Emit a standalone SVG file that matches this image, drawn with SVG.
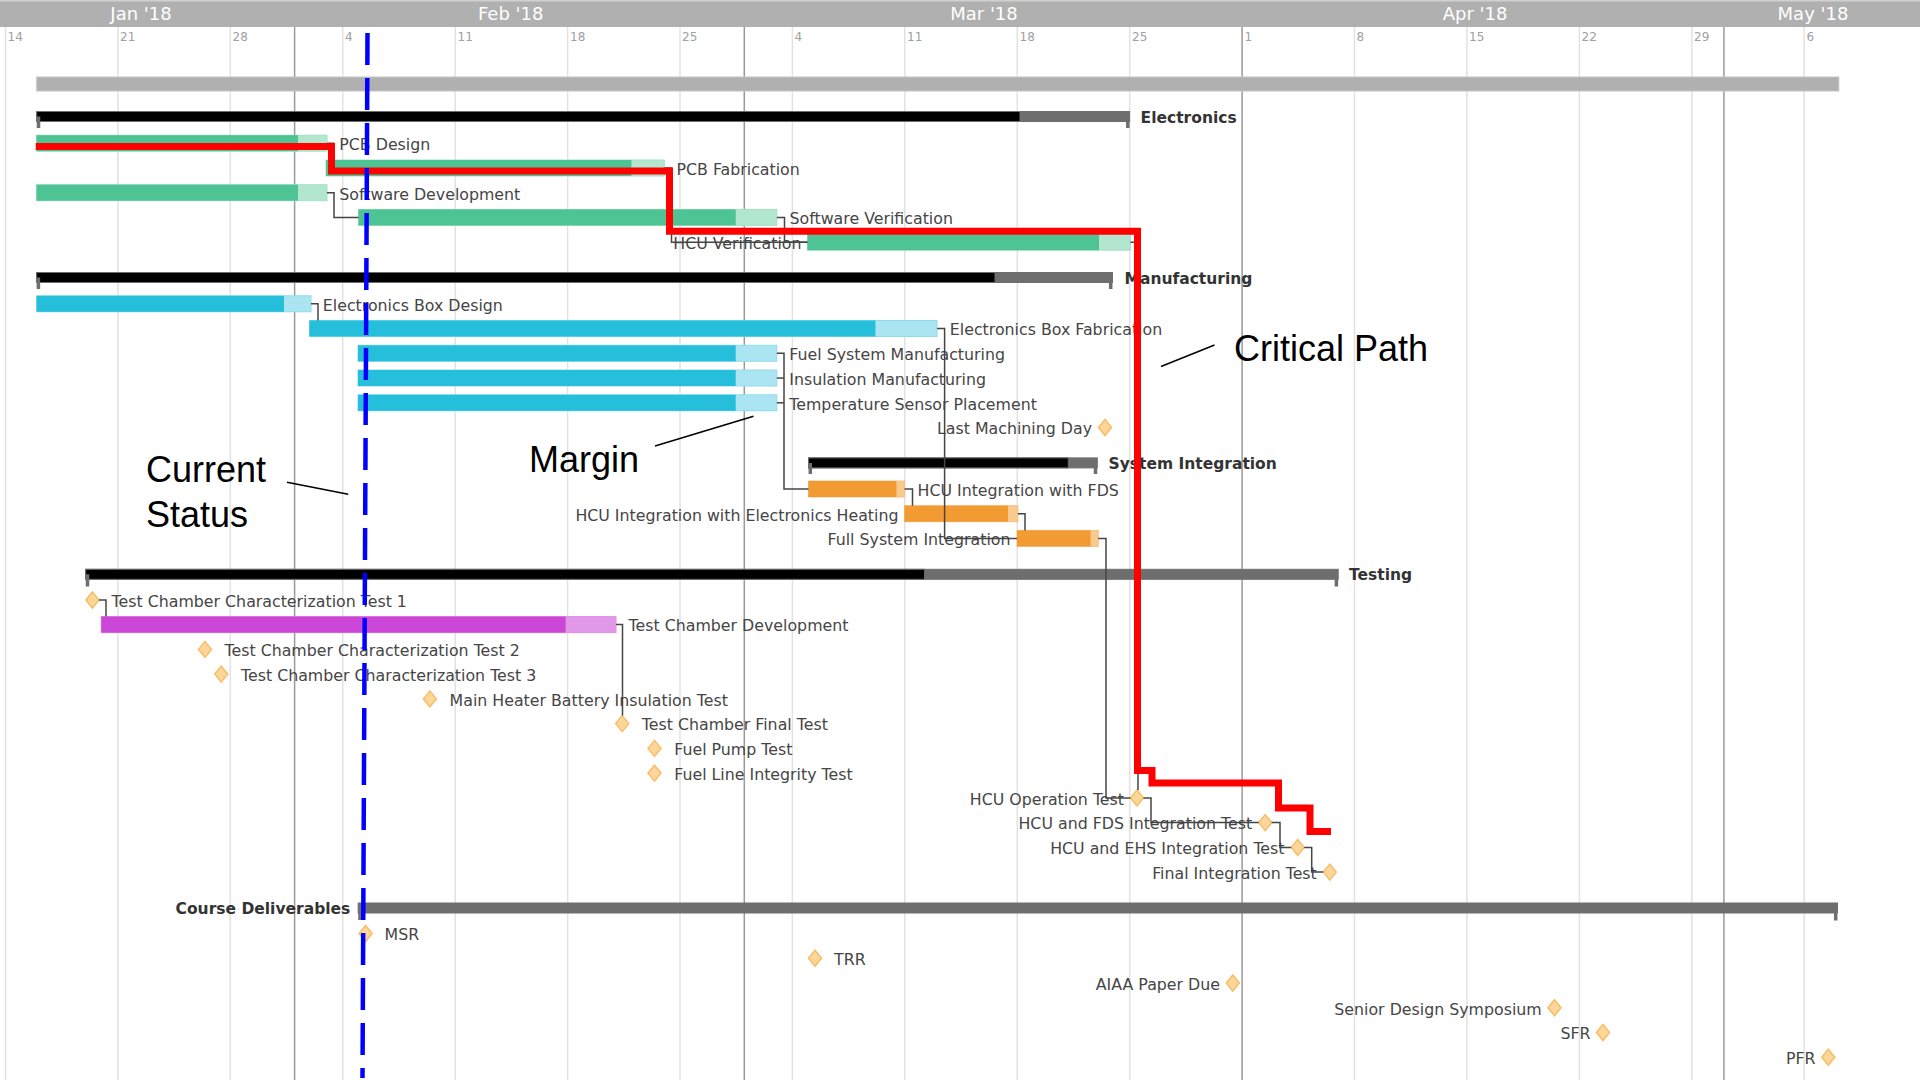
<svg xmlns="http://www.w3.org/2000/svg" width="1920" height="1080" viewBox="0 0 1920 1080">
<style>
.wk{stroke:#e2e2e2;stroke-width:1.5}
.mo{stroke:#9a9a9a;stroke-width:1.5}
.day{font-family:"DejaVu Sans",sans-serif;font-size:12px;fill:#a0a0a0}
.month{font-family:"DejaVu Sans",sans-serif;font-size:18px;fill:#ffffff;text-anchor:middle}
.lbl{font-family:"DejaVu Sans",sans-serif;font-size:15.8px;fill:#454545}
.end{text-anchor:end}
.grp{font-family:"DejaVu Sans",sans-serif;font-size:15.5px;font-weight:bold;fill:#333333}
.sumb{fill:#000000;stroke:#6e6e6e;stroke-width:1}
.sumg{fill:#6e6e6e;stroke:#6e6e6e;stroke-width:1}
.tick{stroke:#6e6e6e;stroke-width:3.5;fill:none}
.gd{fill:#4ec494}.gl{fill:#b3e6cf;stroke:#a6e0c6;stroke-width:1}
.cd{fill:#26bfdb}.cl{fill:#abe5f1;stroke:#8fdcec;stroke-width:1}
.od{fill:#f29b33}.ol{fill:#f9c98e;stroke:#f7c184;stroke-width:1}
.pd{fill:#cb47d8}.pl{fill:#e198e8;stroke:#dd90e5;stroke-width:1}
.ms{fill:#ffd699;stroke:#f6bd67;stroke-width:1.5}
.conn{fill:none;stroke:#454545;stroke-width:1.5}
.crit{fill:none;stroke:#ff0000;stroke-width:7}
.now{fill:none;stroke:#0000ff;stroke-width:4.5;stroke-dasharray:32 13}
.ann{font-family:"Liberation Sans",Arial,sans-serif;font-size:36px;fill:#000000}
.lead{stroke:#000000;stroke-width:1.5}
</style>

<g id="grid">
<line class="wk" x1="5.5" y1="27" x2="5.5" y2="1080"/>
<line class="wk" x1="117.9" y1="27" x2="117.9" y2="1080"/>
<line class="wk" x1="230.3" y1="27" x2="230.3" y2="1080"/>
<line class="wk" x1="342.7" y1="27" x2="342.7" y2="1080"/>
<line class="wk" x1="455.2" y1="27" x2="455.2" y2="1080"/>
<line class="wk" x1="567.6" y1="27" x2="567.6" y2="1080"/>
<line class="wk" x1="680" y1="27" x2="680" y2="1080"/>
<line class="wk" x1="792.4" y1="27" x2="792.4" y2="1080"/>
<line class="wk" x1="904.8" y1="27" x2="904.8" y2="1080"/>
<line class="wk" x1="1017.3" y1="27" x2="1017.3" y2="1080"/>
<line class="wk" x1="1129.7" y1="27" x2="1129.7" y2="1080"/>
<line class="wk" x1="1354.5" y1="27" x2="1354.5" y2="1080"/>
<line class="wk" x1="1466.9" y1="27" x2="1466.9" y2="1080"/>
<line class="wk" x1="1579.4" y1="27" x2="1579.4" y2="1080"/>
<line class="wk" x1="1691.8" y1="27" x2="1691.8" y2="1080"/>
<line class="wk" x1="1804.2" y1="27" x2="1804.2" y2="1080"/>
<line class="mo" x1="294.6" y1="27" x2="294.6" y2="1080"/>
<line class="mo" x1="744.3" y1="27" x2="744.3" y2="1080"/>
<line class="mo" x1="1242.1" y1="27" x2="1242.1" y2="1080"/>
<line class="mo" x1="1723.9" y1="27" x2="1723.9" y2="1080"/>
</g>

<g id="header">
<rect x="0" y="0" width="1920" height="27" fill="#b0b0b0"/>
<rect x="0" y="0" width="1920" height="1.5" fill="#d0d0d0"/>
<text class="month" x="141" y="19.5">Jan '18</text>
<text class="month" x="510.7" y="19.5">Feb '18</text>
<text class="month" x="984" y="19.5">Mar '18</text>
<text class="month" x="1475" y="19.5">Apr '18</text>
<text class="month" x="1813" y="19.5">May '18</text>
<text class="day" x="7.5" y="40.5">14</text>
<text class="day" x="120" y="40.5">21</text>
<text class="day" x="232.5" y="40.5">28</text>
<text class="day" x="345" y="40.5">4</text>
<text class="day" x="457.5" y="40.5">11</text>
<text class="day" x="570" y="40.5">18</text>
<text class="day" x="682" y="40.5">25</text>
<text class="day" x="794.5" y="40.5">4</text>
<text class="day" x="907" y="40.5">11</text>
<text class="day" x="1019.5" y="40.5">18</text>
<text class="day" x="1132" y="40.5">25</text>
<text class="day" x="1244.5" y="40.5">1</text>
<text class="day" x="1356.5" y="40.5">8</text>
<text class="day" x="1469" y="40.5">15</text>
<text class="day" x="1581.5" y="40.5">22</text>
<text class="day" x="1694" y="40.5">29</text>
<text class="day" x="1806.5" y="40.5">6</text>
</g>

<g id="project">
<rect x="36.7" y="77" width="1802.1" height="14" fill="#b0b0b0" stroke="#c4c4c4" stroke-width="1"/>
</g>

<g id="electronics">
<rect class="sumg" x="36.7" y="111.5" width="1092.9" height="10"/>
<rect class="sumb" x="36.7" y="111.5" width="983.3" height="10"/>
<path class="tick" d="M38.5 116.5 V128 M1127.8 116.5 V128"/>
<text class="grp" x="1140.6" y="122.5">Electronics</text>
</g>
<g id="pcb-design">
<rect class="gl" x="36.6" y="135.2" width="290.4" height="16"/>
<rect class="gd" x="36.6" y="135.2" width="261.4" height="16"/>
<text class="lbl" x="339.3" y="150">PCB Design</text>
</g>
<g id="pcb-fabrication">
<rect class="gl" x="326" y="160" width="338.3" height="16"/>
<rect class="gd" x="326" y="160" width="305.4" height="16"/>
<text class="lbl" x="676.5" y="174.8">PCB Fabrication</text>
</g>
<g id="software-development">
<rect class="gl" x="36.6" y="184.7" width="290.4" height="16"/>
<rect class="gd" x="36.6" y="184.7" width="261.4" height="16"/>
<text class="lbl" x="339.3" y="199.5">Software Development</text>
</g>
<g id="software-verification">
<rect class="gl" x="358.5" y="209.4" width="418.3" height="16"/>
<rect class="gd" x="358.5" y="209.4" width="377.2" height="16"/>
<text class="lbl" x="789.5" y="224.2">Software Verification</text>
</g>
<g id="hcu-verification">
<rect class="gl" x="807.5" y="234.2" width="322.9" height="16"/>
<rect class="gd" x="807.5" y="234.2" width="291.5" height="16"/>
<text class="lbl end" x="801.5" y="249">HCU Verification</text>
</g>

<g id="manufacturing">
<rect class="sumg" x="36.6" y="272.5" width="1075.9" height="10"/>
<rect class="sumb" x="36.6" y="272.5" width="958.4" height="10"/>
<path class="tick" d="M38.4 277.5 V289 M1110.7 277.5 V289"/>
<text class="grp" x="1124.5" y="283.5">Manufacturing</text>
</g>
<g id="electronics-box-design">
<rect class="cl" x="36.6" y="295.8" width="274.4" height="16"/>
<rect class="cd" x="36.6" y="295.8" width="247.4" height="16"/>
<text class="lbl" x="322.8" y="310.6">Electronics Box Design</text>
</g>
<g id="electronics-box-fabrication">
<rect class="cl" x="309.4" y="320.5" width="627.6" height="16"/>
<rect class="cd" x="309.4" y="320.5" width="566" height="16"/>
<text class="lbl" x="949.8" y="335.3">Electronics Box Fabrication</text>
</g>
<g id="fuel-system-manufacturing">
<rect class="cl" x="358" y="345.3" width="418.8" height="16"/>
<rect class="cd" x="358" y="345.3" width="377.7" height="16"/>
<text class="lbl" x="789.3" y="360.1">Fuel System Manufacturing</text>
</g>
<g id="insulation-manufacturing">
<rect class="cl" x="358" y="370" width="418.8" height="16"/>
<rect class="cd" x="358" y="370" width="377.7" height="16"/>
<text class="lbl" x="789.3" y="384.8">Insulation Manufacturing</text>
</g>
<g id="temperature-sensor-placement">
<rect class="cl" x="358" y="394.8" width="418.8" height="16"/>
<rect class="cd" x="358" y="394.8" width="377.7" height="16"/>
<text class="lbl" x="789.3" y="409.6">Temperature Sensor Placement</text>
</g>
<g id="last-machining-day">
<path class="ms" d="M1105 419.5 L1111.5 427.5 L1105 435.5 L1098.5 427.5 Z"/>
<text class="lbl end" x="1092" y="434.3">Last Machining Day</text>
</g>

<g id="system-integration">
<rect class="sumg" x="808.5" y="457.9" width="288.8" height="10"/>
<rect class="sumb" x="808.5" y="457.9" width="259.8" height="10"/>
<path class="tick" d="M810.3 462.9 V474 M1095.5 462.9 V474"/>
<text class="grp" x="1108.5" y="468.9">System Integration</text>
</g>
<g id="hcu-integration-fds">
<rect class="ol" x="808.5" y="481" width="96" height="16"/>
<rect class="od" x="808.5" y="481" width="87.9" height="16"/>
<text class="lbl" x="917.5" y="495.8">HCU Integration with FDS</text>
</g>
<g id="hcu-integration-eh">
<rect class="ol" x="904.5" y="505.7" width="113.4" height="16"/>
<rect class="od" x="904.5" y="505.7" width="103.5" height="16"/>
<text class="lbl end" x="898.5" y="520.5">HCU Integration with Electronics Heating</text>
</g>
<g id="full-system-integration">
<rect class="ol" x="1017" y="530.4" width="81.2" height="16"/>
<rect class="od" x="1017" y="530.4" width="73.6" height="16"/>
<text class="lbl end" x="1010.5" y="545.2">Full System Integration</text>
</g>

<g id="testing">
<rect class="sumg" x="85.7" y="569.3" width="1252.5" height="10"/>
<rect class="sumb" x="85.7" y="569.3" width="838.9" height="10"/>
<path class="tick" d="M87.5 574.3 V586.5 M1336.4 574.3 V586.5"/>
<text class="grp" x="1349" y="580.3">Testing</text>
</g>
<g id="tc-char-test-1">
<path class="ms" d="M92.4 592 L98.9 600 L92.4 608 L85.9 600 Z"/>
<text class="lbl" x="111.6" y="606.8">Test Chamber Characterization Test 1</text>
</g>
<g id="tc-development">
<rect class="pl" x="101.3" y="616.6" width="514.7" height="16"/>
<rect class="pd" x="101.3" y="616.6" width="464.3" height="16"/>
<text class="lbl" x="628.6" y="631.4">Test Chamber Development</text>
</g>
<g id="tc-char-test-2">
<path class="ms" d="M205 641.4 L211.5 649.4 L205 657.4 L198.5 649.4 Z"/>
<text class="lbl" x="224.5" y="656.2">Test Chamber Characterization Test 2</text>
</g>
<g id="tc-char-test-3">
<path class="ms" d="M221.3 666.1 L227.8 674.1 L221.3 682.1 L214.8 674.1 Z"/>
<text class="lbl" x="241" y="680.9">Test Chamber Characterization Test 3</text>
</g>
<g id="main-heater-battery-insulation-test">
<path class="ms" d="M429.9 690.9 L436.4 698.9 L429.9 706.9 L423.4 698.9 Z"/>
<text class="lbl" x="449.6" y="705.7">Main Heater Battery Insulation Test</text>
</g>
<g id="tc-final-test">
<path class="ms" d="M622.2 715.6 L628.7 723.6 L622.2 731.6 L615.7 723.6 Z"/>
<text class="lbl" x="641.8" y="730.4">Test Chamber Final Test</text>
</g>
<g id="fuel-pump-test">
<path class="ms" d="M654.5 740.4 L661 748.4 L654.5 756.4 L648 748.4 Z"/>
<text class="lbl" x="674.2" y="755.2">Fuel Pump Test</text>
</g>
<g id="fuel-line-integrity-test">
<path class="ms" d="M654.5 765.1 L661 773.1 L654.5 781.1 L648 773.1 Z"/>
<text class="lbl" x="674.2" y="779.9">Fuel Line Integrity Test</text>
</g>
<g id="hcu-operation-test">
<path class="ms" d="M1137 789.9 L1143.5 797.9 L1137 805.9 L1130.5 797.9 Z"/>
<text class="lbl end" x="1124" y="804.7">HCU Operation Test</text>
</g>
<g id="hcu-fds-integration-test">
<path class="ms" d="M1265.2 814.6 L1271.7 822.6 L1265.2 830.6 L1258.7 822.6 Z"/>
<text class="lbl end" x="1252.2" y="829.4">HCU and FDS Integration Test</text>
</g>
<g id="hcu-ehs-integration-test">
<path class="ms" d="M1297.7 839.4 L1304.2 847.4 L1297.7 855.4 L1291.2 847.4 Z"/>
<text class="lbl end" x="1284.5" y="854.2">HCU and EHS Integration Test</text>
</g>
<g id="final-integration-test">
<path class="ms" d="M1329.8 864.1 L1336.3 872.1 L1329.8 880.1 L1323.3 872.1 Z"/>
<text class="lbl end" x="1316.8" y="878.9">Final Integration Test</text>
</g>

<g id="course-deliverables">
<rect class="sumg" x="358.2" y="903" width="1479.3" height="10"/>
<path class="tick" d="M360 908 V920 M1835.7 908 V920.5"/>
<text class="grp end" x="350.3" y="914">Course Deliverables</text>
</g>
<g id="msr">
<path class="ms" d="M365.6 925.5 L372.1 933.5 L365.6 941.5 L359.1 933.5 Z"/>
<text class="lbl" x="384.6" y="940.3">MSR</text>
</g>
<g id="trr">
<path class="ms" d="M815 950.3 L821.5 958.3 L815 966.3 L808.5 958.3 Z"/>
<text class="lbl" x="834" y="965.1">TRR</text>
</g>
<g id="aiaa-paper-due">
<path class="ms" d="M1232.8 975 L1239.3 983 L1232.8 991 L1226.3 983 Z"/>
<text class="lbl end" x="1220" y="989.8">AIAA Paper Due</text>
</g>
<g id="senior-design-symposium">
<path class="ms" d="M1554.5 999.8 L1561 1007.8 L1554.5 1015.8 L1548 1007.8 Z"/>
<text class="lbl end" x="1541.7" y="1014.6">Senior Design Symposium</text>
</g>
<g id="sfr">
<path class="ms" d="M1603 1024.5 L1609.5 1032.5 L1603 1040.5 L1596.5 1032.5 Z"/>
<text class="lbl end" x="1590.5" y="1039.3">SFR</text>
</g>
<g id="pfr">
<path class="ms" d="M1828.3 1049.3 L1834.8 1057.3 L1828.3 1065.3 L1821.8 1057.3 Z"/>
<text class="lbl end" x="1815.5" y="1064.1">PFR</text>
</g>

<g id="connectors">
<path class="conn" d="M327 143.2 H333.5 V160"/>
<path class="conn" d="M327 192.7 H334 V217.45 H358.5"/>
<path class="conn" d="M664.3 168 H671.5 V242.2 H807.5"/>
<path class="conn" d="M776.8 217.45 H784.5 V242.2 H807.5"/>
<path class="conn" d="M1130.4 242.2 H1138 V790"/>
<path class="conn" d="M311 303.8 H318 V320.5"/>
<path class="conn" d="M937 328.55 H944.6 V538.45 H1017"/>
<path class="conn" d="M776.8 353.3 H784 V488.95 H808.5"/>
<path class="conn" d="M776.8 378.05 H784"/>
<path class="conn" d="M776.8 402.8 H784"/>
<path class="conn" d="M904.5 488.95 H912.5 V505.7"/>
<path class="conn" d="M1017.9 513.7 H1025 V530.4"/>
<path class="conn" d="M1098.2 538.45 H1106 V797.9 H1130.5"/>
<path class="conn" d="M98.9 600 H106 V616.6"/>
<path class="conn" d="M616 624.6 H622.5 V715.6"/>
<path class="conn" d="M1143.5 797.9 H1151 V822.6 H1258.7"/>
<path class="conn" d="M1271.7 822.6 H1280 V847.4 H1291.2"/>
<path class="conn" d="M1304.2 847.4 H1311.7 V872.1 H1323.3"/>
</g>

<g id="critical-path">
<path class="crit" d="M35.7 146.5 H331.5 V171 H669.5 V231.3 H1137.5 V770.5 H1152 V783 H1278.5 V808 H1310 V831.5 H1331"/>
</g>
<g id="current-status">
<line class="now" x1="367.5" y1="33" x2="362.5" y2="1078"/>
</g>

<g id="annotations">
<text class="ann" x="146" y="482">Current</text>
<text class="ann" x="146" y="527">Status</text>
<line class="lead" x1="287" y1="482.3" x2="348.2" y2="494.3"/>
<text class="ann" x="529" y="471.5">Margin</text>
<line class="lead" x1="655" y1="446" x2="753.5" y2="416.3"/>
<text class="ann" x="1234" y="360.5">Critical Path</text>
<line class="lead" x1="1161" y1="366.5" x2="1214.5" y2="345"/>
</g>
</svg>
